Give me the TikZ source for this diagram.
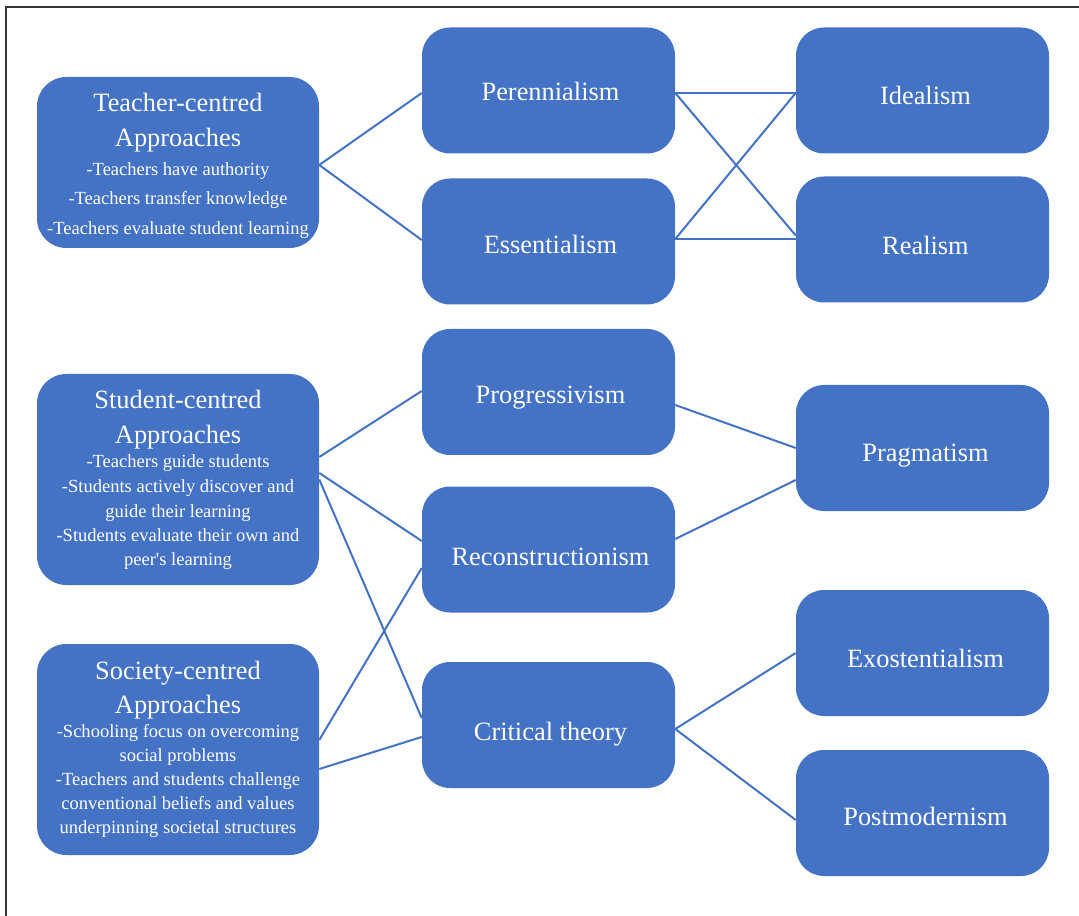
\documentclass[tikz,border=0pt]{standalone}
\usepackage{fontspec}
\setmainfont{Liberation Serif}[Ligatures=TeXOff]
\usetikzlibrary{calc}
\definecolor{officeblue}{HTML}{4472C4}
\begin{document}
\begin{tikzpicture}[x=0.75pt,y=-0.75pt,
  box/.style={draw=none, fill=officeblue, rounded corners=21pt,
    minimum width=189.75pt, minimum height=94.5pt, inner sep=0pt},
  widebox/.style={box, minimum width=211.5pt, rounded corners=22pt},
  big/.style={text=white, font=\fontsize{19.8}{24}\selectfont, inner sep=0pt, anchor=base},
  small/.style={text=white, font=\fontsize{13.9}{17}\selectfont, inner sep=0pt, anchor=base},
  link/.style={draw=officeblue, line width=1.5pt}]
\useasboundingbox (0,0) rectangle (1079,916);
% page frame
\draw[line width=1pt, black!80] (6,916) -- (6,7) -- (1079,7);

% approach boxes (left column)
\node[widebox, minimum height=128.25pt] (tch) at (178,162.5) {};
\node[widebox, minimum height=158.25pt] (stu) at (178,479.5) {};
\node[widebox, minimum height=158.25pt] (soc) at (178,749.5) {};

% philosophy boxes (middle column)
\node[box] (per)  at (548.5,90.5) {};
\node[box] (ess)  at (548.5,241.5) {};
\node[box] (pro)  at (548.5,392) {};
\node[box] (rec)  at (548.5,549.5) {};
\node[box] (crit) at (548.5,725) {};

% underlying philosophies (right column)
\node[box] (ide) at (922.5,90.5) {};
\node[box] (rea) at (922.5,239.5) {};
\node[box] (pra) at (922.5,448) {};
\node[box] (exo) at (922.5,653) {};
\node[box] (pos) at (922.5,813) {};

% texts of the approach boxes
\node[big]   (tch-t1) at (178,112) {Teacher-centred};
\node[big]   (tch-t2) at (178,147) {Approaches};
\node[small] (tch-l1) at (178,176) {-Teachers have authority};
\node[small] (tch-l2) at (178,205) {-Teachers transfer knowledge};
\node[small] (tch-l3) at (178,235) {-Teachers evaluate student learning};

\node[big]   (stu-t1) at (178,409) {Student-centred};
\node[big]   (stu-t2) at (178,444) {Approaches};
\node[small] (stu-l1) at (178,468) {-Teachers guide students};
\node[small] (stu-l2) at (178,493) {-Students actively discover and};
\node[small] (stu-l3) at (178,517) {guide their learning};
\node[small] (stu-l4) at (178,541) {-Students evaluate their own and};
\node[small] (stu-l5) at (178,565) {peer's learning};

\node[big]   (soc-t1) at (178,679) {Society-centred};
\node[big]   (soc-t2) at (178,713) {Approaches};
\node[small] (soc-l1) at (178,737) {-Schooling focus on overcoming};
\node[small] (soc-l2) at (178,761) {social problems};
\node[small] (soc-l3) at (178,785) {-Teachers and students challenge};
\node[small] (soc-l4) at (178,809) {conventional beliefs and values};
\node[small] (soc-l5) at (178,833) {underpinning societal structures};

% labels of the philosophy boxes
\node[big] (per-t)  at (550.5,101) {Perennialism};
\node[big] (ess-t)  at (550.5,254) {Essentialism};
\node[big] (pro-t)  at (550.5,404) {Progressivism};
\node[big] (rec-t)  at (550.5,565) {Reconstructionism};
\node[big] (crit-t) at (550.5,740) {Critical theory};
\node[big] (ide-t)  at (925.5,105) {Idealism};
\node[big] (rea-t)  at (925.5,255) {Realism};
\node[big] (pra-t)  at (925.5,461) {Pragmatism};
\node[big] (exo-t)  at (925.5,667) {Exostentialism};
\node[big] (pos-t)  at (925.5,825) {Postmodernism};

% connectors
\draw[link] ($(tch.east)+(0,2.5)$) -- ($(per.west)+(0,2.5)$);
\draw[link] ($(tch.east)+(0,2.5)$) -- ($(ess.west)+(0,-1.5)$);
\draw[link] ($(per.east)+(0,2.5)$) -- ($(ide.west)+(0,2.5)$);
\draw[link] ($(per.east)+(0,2.5)$) -- ($(rea.west)+(0,-4)$);
\draw[link] ($(ess.east)+(0,-2.5)$) -- ($(ide.west)+(0,2.5)$);
\draw[link] ($(ess.east)+(0,-2.5)$) -- ($(rea.west)+(0,-0.5)$);

\draw[link] ($(stu.east)+(0,-22.5)$) -- ($(pro.west)+(0,-1)$);
\draw[link] ($(stu.east)+(0,-6.5)$) -- ($(rec.west)+(0,-8.5)$);
\draw[link] (stu.east) -- ($(crit.west)+(0,-7)$);
\draw[link] ($(soc.east)+(0,-9.5)$) -- ($(rec.west)+(0,18.5)$);
\draw[link] ($(soc.east)+(0,19.5)$) -- ($(crit.west)+(0,12)$);

\draw[link] ($(pro.east)+(0,13)$) -- (pra.west);
\draw[link] ($(rec.east)+(0,-10.5)$) -- ($(pra.west)+(0,32)$);
\draw[link] ($(crit.east)+(0,4)$) -- (exo.west);
\draw[link] ($(crit.east)+(0,4)$) -- ($(pos.west)+(0,7)$);
\end{tikzpicture}
\end{document}
